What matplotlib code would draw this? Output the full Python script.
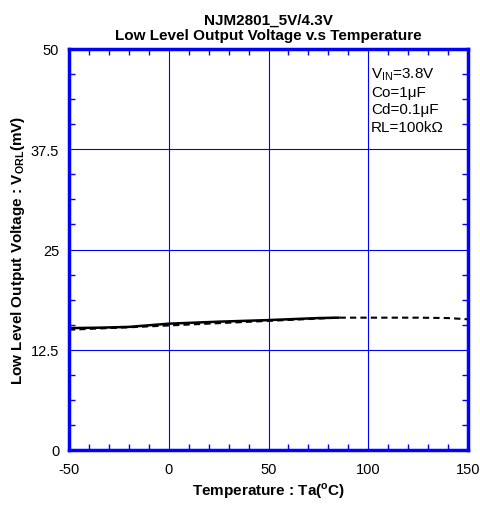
import matplotlib
matplotlib.use("Agg")
import matplotlib.pyplot as plt
from matplotlib.ticker import MultipleLocator

plt.rcParams['font.family'] = ['Liberation Sans', 'DejaVu Sans']
plt.rcParams['mathtext.fontset'] = 'custom'
plt.rcParams['mathtext.rm'] = 'Liberation Sans'
plt.rcParams['mathtext.bf'] = 'Liberation Sans:bold'
plt.rcParams['axes.unicode_minus'] = False

# measured curve (solid) and extended range (dashed)
temp_solid = [-50, -35, -20, -10, 0, 25, 50, 75, 85]
vol_solid = [15.2, 15.25, 15.35, 15.55, 15.75, 16.0, 16.2, 16.45, 16.5]
temp_dash = [-50, -40, -30, -20, 85, 100, 125, 140, 150]
vol_dash = [15.0, 15.1, 15.2, 15.3, 16.5, 16.5, 16.5, 16.45, 16.3]

fig = plt.figure(figsize=(4.81, 5.06), dpi=100)
ax = fig.add_axes([69/481, 55/506, 399/481, 401/506])

ax.plot(temp_dash, vol_dash, color='black', lw=1.5, ls=(0, (3, 2)))
ax.plot(temp_solid, vol_solid, color='black', lw=1.8)

ax.set_xlim(-50, 150)
ax.set_ylim(0, 50)
ax.xaxis.set_major_locator(MultipleLocator(50))
ax.xaxis.set_minor_locator(MultipleLocator(10))
ax.yaxis.set_minor_locator(MultipleLocator(3.125))
ax.set_yticks([0, 12.5, 25, 37.5, 50])
ax.set_yticklabels(['0', '12.5', '25', '37.5', '50'])
ax.grid(True, which='major', color='#0000ff', lw=0.8)
ax.tick_params(which='both', direction='in', top=True, right=True,
               color='#0000ff', labelsize=10.5)
ax.tick_params(which='major', length=0)
ax.tick_params(axis='x', which='major', pad=9)
ax.tick_params(axis='y', which='major', pad=7)
ax.tick_params(which='minor', length=4, width=1)
for s in ax.spines.values():
    s.set_color('#0000ff')
    s.set_linewidth(2.5)

ax.set_xlabel('Temperature : Ta($^\\mathregular{o}$C)', fontsize=11, fontweight='bold', labelpad=3)
ax.set_ylabel('Low Level Output Voltage : V$_{\\mathregular{ORL}}$(mV)', fontsize=11,
              fontweight='bold', labelpad=3)
ax.set_title('NJM2801_5V/4.3V\nLow Level Output Voltage v.s Temperature',
             fontsize=11, fontweight='bold', pad=7, linespacing=1.15)

ax.text(0.757, 0.96,
        'V$_{\\mathregular{IN}}$=3.8V\nCo=1\u03bcF\nCd=0.1\u03bcF\nRL=100k\u03a9',
        transform=ax.transAxes, fontsize=11, va='top', ha='left', linespacing=1.3)

fig.savefig('out.png', dpi=100)
